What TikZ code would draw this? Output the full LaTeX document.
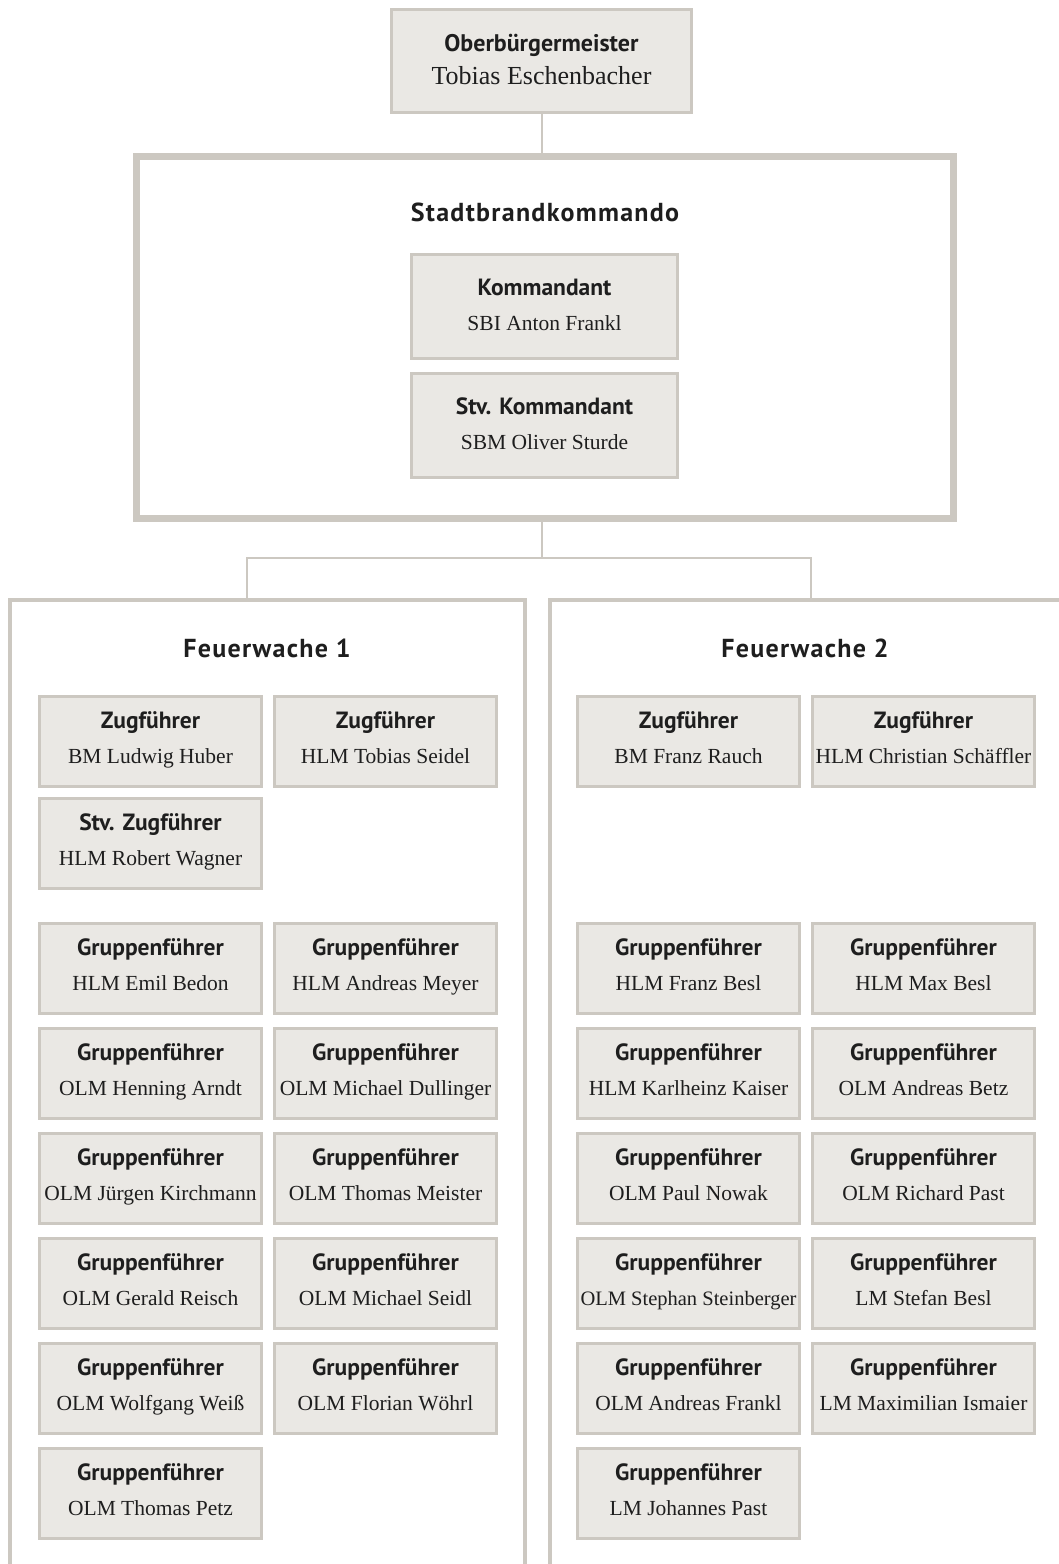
\documentclass[tikz,border=0pt]{standalone}
\usepackage{fontspec}
\setmainfont{Liberation Serif}
\setsansfont{PT Sans}
\newfontfamily\headfont[LetterSpace=5]{PT Sans}
\usepackage{tikz}
\usetikzlibrary{positioning}
\definecolor{boxfill}{HTML}{EAE8E4}
\definecolor{boxline}{HTML}{CCC8C1}
\definecolor{ink}{HTML}{1E1E1E}
\newcommand{\amt}[3][16pt]{{\sffamily\bfseries\fontsize{23.5}{35}\selectfont\strut #2}\\{\strut\rule[-#1]{0pt}{1pt}#3}}
\tikzset{pers/.style={rectangle,draw=boxline,fill=boxfill,line width=3pt,minimum width=222pt,minimum height=90pt,inner sep=0pt,align=center,text=ink,font=\fontsize{21.5}{35}\selectfont}}
\tikzset{unit/.style={rectangle,draw=boxline,fill=none,inner sep=0pt}}
\tikzset{head/.style={text=ink,font=\headfont\bfseries\fontsize{26}{30}\selectfont}}
\tikzset{conn/.style={draw=boxline,line width=2pt}}

\begin{document}
\begin{tikzpicture}[x=1pt,y=-1pt,node distance=12pt and 10pt]
\useasboundingbox (0,0) rectangle (1059,1564);
%% Oberbuergermeister und Stadtbrandkommando
\node[pers, minimum width=300pt, minimum height=103pt, font=\fontsize{26}{33}\selectfont] (ob) at (541.5,61) {{\sffamily\bfseries\fontsize{24}{33}\selectfont\strut Oberbürgermeister}\\{\strut Tobias Eschenbacher}};
\node[unit, line width=7pt, minimum width=817pt, minimum height=362pt] (sbk) at (545,337.5) {};
\node[head] (sbkt) at (545,212) {Stadtbrandkommando};
\node[pers, minimum width=266pt, minimum height=104pt] (kdt) at (544.5,306) {\amt[6pt]{Kommandant}{SBI Anton Frankl}};
\node[pers, minimum width=266pt, minimum height=104pt, below=12pt of kdt] (skdt) {\amt[6pt]{Stv. Kommandant}{SBM Oliver Sturde}};

%% Feuerwachen
\node[unit, line width=4pt, minimum width=515pt, minimum height=1100pt, anchor=north] (fw1) at (267.5,598) {};
\node[unit, line width=4pt, minimum width=522pt, minimum height=1100pt, anchor=north] (fw2) at (811,598) {};
\node[head] (fw1t) at (267,648) {Feuerwache 1};
\node[head] (fw2t) at (805,648) {Feuerwache 2};

\coordinate (fork) at (541.5,558);
\coordinate (fw1in) at (247,600);
\coordinate (fw2in) at (811,600);
\draw[conn] (ob.south) -- (ob.south |- sbk.north);
\draw[conn] (sbk.south -| fork) -- (fork);
\draw[conn] (fork) -| (fw1in);
\draw[conn] (fork) -| (fw2in);

%% Feuerwache 1
\node[pers] (z1a) at (150.5,741.5) {\amt{Zugführer}{BM Ludwig Huber}};
\node[pers, right=of z1a] (z1b) {\amt{Zugführer}{HLM Tobias Seidel}};
\node[pers, below=9pt of z1a] (sz1) {\amt{Stv. Zugführer}{HLM Robert Wagner}};
\node[pers] (g1a) at (150.5,968.5) {\amt{Gruppenführer}{HLM Emil Bedon}};
\node[pers, right=of g1a] (g1b) {\amt{Gruppenführer}{HLM Andreas Meyer}};
\node[pers, below=of g1a] (g1c) {\amt{Gruppenführer}{OLM Henning Arndt}};
\node[pers, right=of g1c] (g1d) {\amt{Gruppenführer}{OLM Michael Dullinger}};
\node[pers, below=of g1c] (g1e) {\amt{Gruppenführer}{OLM Jürgen Kirchmann}};
\node[pers, right=of g1e] (g1f) {\amt{Gruppenführer}{OLM Thomas Meister}};
\node[pers, below=of g1e] (g1g) {\amt{Gruppenführer}{OLM Gerald Reisch}};
\node[pers, right=of g1g] (g1h) {\amt{Gruppenführer}{OLM Michael Seidl}};
\node[pers, below=of g1g] (g1i) {\amt{Gruppenführer}{OLM Wolfgang Weiß}};
\node[pers, right=of g1i] (g1j) {\amt{Gruppenführer}{OLM Florian Wöhrl}};
\node[pers, below=of g1i] (g1k) {\amt{Gruppenführer}{OLM Thomas Petz}};

%% Feuerwache 2
\node[pers] (z2a) at (688.5,741.5) {\amt{Zugführer}{BM Franz Rauch}};
\node[pers, right=of z2a] (z2b) {\amt{Zugführer}{HLM Christian Schäffler}};
\node[pers] (g2a) at (688.5,968.5) {\amt{Gruppenführer}{HLM Franz Besl}};
\node[pers, right=of g2a] (g2b) {\amt{Gruppenführer}{HLM Max Besl}};
\node[pers, below=of g2a] (g2c) {\amt{Gruppenführer}{HLM Karlheinz Kaiser}};
\node[pers, right=of g2c] (g2d) {\amt{Gruppenführer}{OLM Andreas Betz}};
\node[pers, below=of g2c] (g2e) {\amt{Gruppenführer}{OLM Paul Nowak}};
\node[pers, right=of g2e] (g2f) {\amt{Gruppenführer}{OLM Richard Past}};
\node[pers, below=of g2e] (g2g) {\amt{Gruppenführer}{\fontsize{20.5}{35}\selectfont OLM Stephan Steinberger}};
\node[pers, right=of g2g] (g2h) {\amt{Gruppenführer}{LM Stefan Besl}};
\node[pers, below=of g2g] (g2i) {\amt{Gruppenführer}{OLM Andreas Frankl}};
\node[pers, right=of g2i] (g2j) {\amt{Gruppenführer}{LM Maximilian Ismaier}};
\node[pers, below=of g2i] (g2k) {\amt{Gruppenführer}{LM Johannes Past}};
\end{tikzpicture}
\end{document}
